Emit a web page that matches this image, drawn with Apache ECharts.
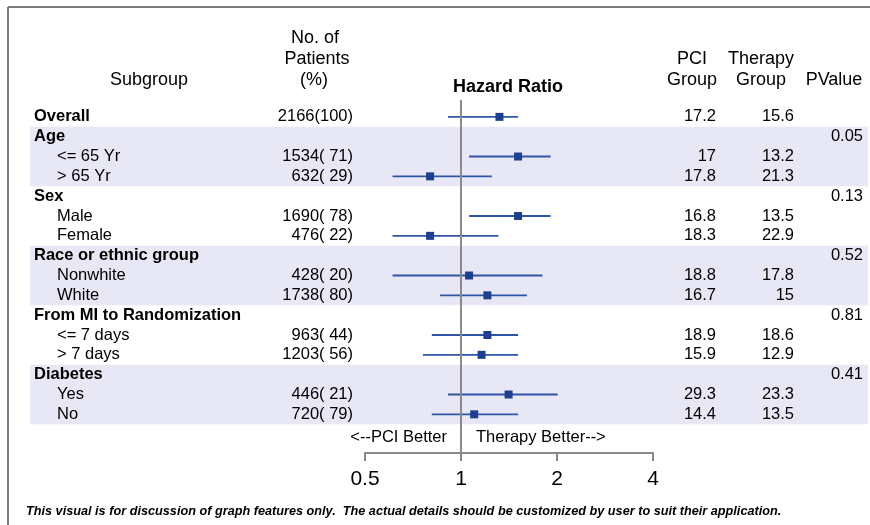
<!DOCTYPE html>
<html>
<head>
<meta charset="utf-8">
<script src="https://cdn.jsdelivr.net/npm/echarts@6/dist/echarts.min.js"></script>
<style>
html,body{margin:0;padding:0;background:#fff;}
#chart{width:870px;height:525px;}
</style>
</head>
<body>
<div id="chart"></div>
<script>
// ---- data ----
const subgroups = ['Overall','Age','<= 65 Yr','> 65 Yr','Sex','Male','Female','Race or ethnic group','Nonwhite','White','From MI to Randomization','<= 7 days','> 7 days','Diabetes','Yes','No'];
const isGroup = [1,1,0,0,1,0,0,1,0,0,1,0,0,1,0,0];
const patients = ['2166(100)','','1534( 71)','632( 29)','','1690( 78)','476( 22)','','428( 20)','1738( 80)','','963( 44)','1203( 56)','','446( 21)','720( 79)'];
const hazardRatio = [1.32,null,1.51,0.80,null,1.51,0.80,null,1.06,1.21,null,1.21,1.16,null,1.41,1.10];
const ciLow = [0.91,null,1.06,0.61,null,1.06,0.61,null,0.61,0.86,null,0.81,0.76,null,0.91,0.81];
const ciHigh = [1.51,null,1.91,1.25,null,1.91,1.31,null,1.80,1.61,null,1.51,1.51,null,2.01,1.51];
const pciGroup = ['17.2','','17','17.8','','16.8','18.3','','18.8','16.7','','18.9','15.9','','29.3','14.4'];
const therapyGroup = ['15.6','','13.2','21.3','','13.5','22.9','','17.8','15','','18.6','12.9','','23.3','13.5'];
const pValue = ['','0.05','','','0.13','','','0.52','','','0.81','','','0.41','',''];
const xTicks = [0.5, 1, 2, 4];
const bandRows = [[1,3],[7,9],[13,15]];
const footnote = 'This visual is for discussion of graph features only.  The actual details should be customized by user to suit their application.';

// ---- layout ----
const FONT = '"Liberation Sans", Arial, sans-serif';
const FS = 16.5;
const TXT = '#000';
const BLUE_LINE = '#2f55a5';
const BLUE_MARK = '#1c3f92';
const GRAY = '#8a8a8a';
const BAND = '#e7e7f6';

const chart = echarts.init(document.getElementById('chart'), null, {renderer:'canvas'});

function textSeries(xPos, texts, align, boldFn) {
  const data = [];
  texts.forEach((t, i) => {
    if (t !== '') data.push({value:[xPos, i], name: t,
      label:{fontWeight: boldFn && boldFn(i) ? 'bold' : 'normal', color:TXT}});
  });
  return {
    type:'scatter', xAxisIndex:0, yAxisIndex:0, symbolSize:0, z:5, silent:true,
    itemStyle:{opacity:1},
    data,
    label:{show:true, position: align === 'left' ? 'right' : 'left', distance:0,
      formatter: p => p.name, color:TXT, opacity:1, fontSize:FS, fontFamily:FONT}
  };
}

const series = [];
// bands
series.push({
  type:'scatter', xAxisIndex:0, yAxisIndex:0, data:[], z:0, silent:true,
  markArea:{silent:true, itemStyle:{color:BAND, opacity:1},
    data: bandRows.map(r => [{xAxis:30, yAxis:r[0]-0.5},{xAxis:868, yAxis:r[1]+0.5}])}
});
// subgroup labels (two indent levels)
series.push(textSeries(34, subgroups.map((s,i)=> isGroup[i] ? s : ''), 'left', ()=>true));
series.push(textSeries(57, subgroups.map((s,i)=> isGroup[i] ? '' : s), 'left', ()=>false));
series.push(textSeries(353, patients, 'right'));
series.push(textSeries(716, pciGroup, 'right'));
series.push(textSeries(794, therapyGroup, 'right'));
series.push(textSeries(863, pValue, 'right'));

// CI lines
const ciData = [];
hazardRatio.forEach((h,i)=>{ if (h != null) ciData.push([ciLow[i], ciHigh[i], i]); });
series.push({
  type:'custom', xAxisIndex:1, yAxisIndex:1, z:4, silent:true,
  data: ciData,
  encode:{x:[0,1], y:2},
  renderItem: (params, api) => {
    const a = api.coord([api.value(0), api.value(2)]);
    const b = api.coord([api.value(1), api.value(2)]);
    return {type:'line', shape:{x1:a[0], y1:a[1], x2:b[0], y2:b[1]},
      style:{stroke:BLUE_LINE, lineWidth:1.8}};
  }
});
// markers + reference line
series.push({
  type:'scatter', xAxisIndex:1, yAxisIndex:1, z:6, silent:true,
  symbol:'rect', symbolSize:8,
  itemStyle:{color:BLUE_MARK, opacity:1},
  data: hazardRatio.map((h,i)=> h == null ? null : [h, i]).filter(d=>d),
  markLine:{silent:true, symbol:'none', label:{show:false},
    lineStyle:{color:GRAY, width:2, type:'solid', opacity:1},
    data:[{xAxis:1}]}
});

const option = {
  animation:false,
  backgroundColor:'#fff',
  grid:[
    {left:0, right:0, top:100, bottom:72},
    {left:365, width:288, top:100, bottom:72}
  ],
  xAxis:[
    {gridIndex:0, type:'value', min:0, max:870, show:false},
    {gridIndex:1, type:'log', logBase:2, min:xTicks[0], max:xTicks[xTicks.length-1],
     position:'bottom',
     splitLine:{show:false},
     axisLine:{show:true, onZero:false, lineStyle:{color:GRAY, width:2}},
     axisTick:{show:true, length:8, lineStyle:{color:GRAY, width:2}},
     minorTick:{show:false},
     axisLabel:{show:true, color:TXT, fontSize:21, fontFamily:FONT, margin:16,
       formatter: v => String(+(+v).toFixed(3))}}
  ],
  yAxis:[
    {gridIndex:0, type:'value', inverse:true, min:-0.85, max:16.95, show:false},
    {gridIndex:1, type:'value', inverse:true, min:-0.85, max:16.95, show:false}
  ],
  series,
  graphic:[
    {type:'line', shape:{x1:8, y1:7, x2:870, y2:7}, style:{stroke:'#7a7a7a', lineWidth:2}},
    {type:'line', shape:{x1:8, y1:7, x2:8, y2:525}, style:{stroke:'#7a7a7a', lineWidth:2}},
    {type:'text', x:149, y:80, style:{text:'Subgroup', font:'18px '+FONT, fill:TXT, align:'center', verticalAlign:'middle'}},
    {type:'text', x:315, y:38, style:{text:'No. of', font:'18px '+FONT, fill:TXT, align:'center', verticalAlign:'middle'}},
    {type:'text', x:317, y:59, style:{text:'Patients', font:'18px '+FONT, fill:TXT, align:'center', verticalAlign:'middle'}},
    {type:'text', x:314, y:80, style:{text:'(%)', font:'18px '+FONT, fill:TXT, align:'center', verticalAlign:'middle'}},
    {type:'text', x:508, y:87, style:{text:'Hazard Ratio', font:'bold 18px '+FONT, fill:TXT, align:'center', verticalAlign:'middle'}},
    {type:'text', x:692, y:59, style:{text:'PCI', font:'18px '+FONT, fill:TXT, align:'center', verticalAlign:'middle'}},
    {type:'text', x:692, y:80, style:{text:'Group', font:'18px '+FONT, fill:TXT, align:'center', verticalAlign:'middle'}},
    {type:'text', x:761, y:59, style:{text:'Therapy', font:'18px '+FONT, fill:TXT, align:'center', verticalAlign:'middle'}},
    {type:'text', x:761, y:80, style:{text:'Group', font:'18px '+FONT, fill:TXT, align:'center', verticalAlign:'middle'}},
    {type:'text', x:834, y:80, style:{text:'PValue', font:'18px '+FONT, fill:TXT, align:'center', verticalAlign:'middle'}},
    {type:'text', x:447, y:437, style:{text:'<--PCI Better', font:FS+'px '+FONT, fill:TXT, align:'right', verticalAlign:'middle'}},
    {type:'text', x:476, y:437, style:{text:'Therapy Better-->', font:FS+'px '+FONT, fill:TXT, align:'left', verticalAlign:'middle'}},
    {type:'text', x:26, y:511, style:{text:footnote, font:'italic bold 12.7px '+FONT, fill:TXT, align:'left', verticalAlign:'middle'}}
  ]
};
chart.setOption(option);
</script>
</body>
</html>
